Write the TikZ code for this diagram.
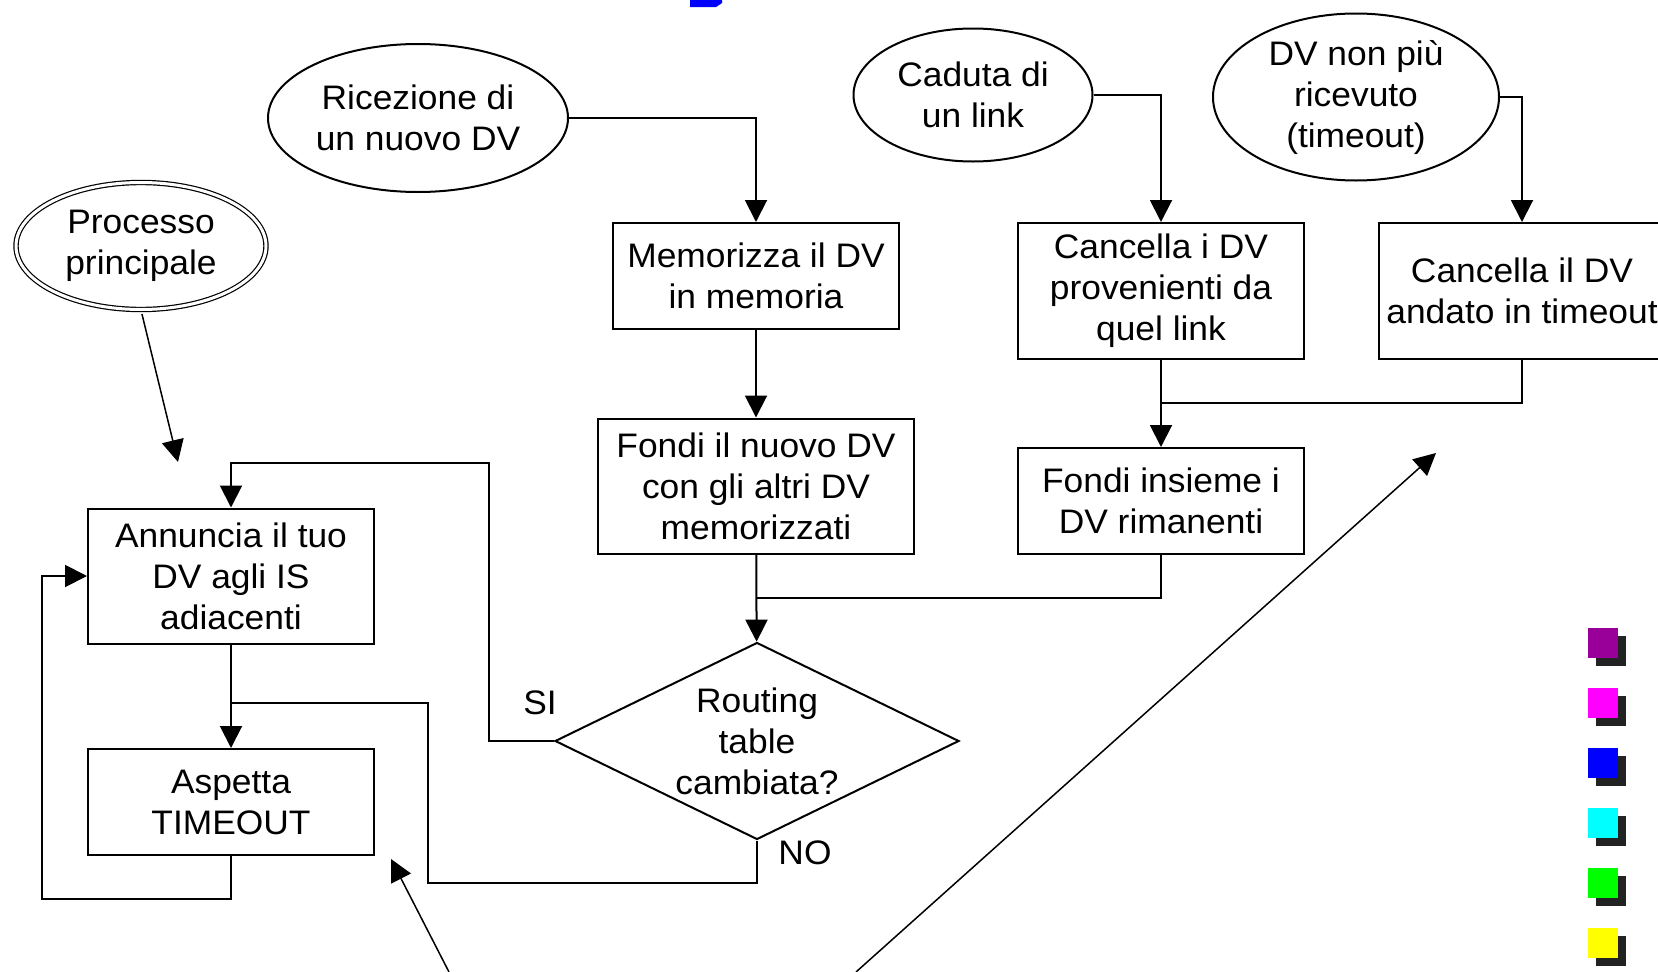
\documentclass[tikz,border=0pt]{standalone}
\usepackage{fontspec}
\setmainfont{Liberation Sans}[FakeStretch=1.04]
\usetikzlibrary{arrows.meta, positioning, shapes.geometric}
\definecolor{swpurple}{RGB}{153,0,153}
\definecolor{swmagenta}{RGB}{255,0,255}
\definecolor{swblue}{RGB}{0,0,255}
\definecolor{swcyan}{RGB}{0,255,255}
\definecolor{swgreen}{RGB}{0,255,0}
\definecolor{swyellow}{RGB}{255,255,0}
\definecolor{shadowgray}{RGB}{34,34,34}

\begin{document}
\begin{tikzpicture}[x=1pt, y=-1pt, line width=2pt,
  lab/.style={font=\fontsize{34}{41}\selectfont, align=center},
  box/.style={lab, draw, rectangle, inner sep=0pt, minimum width=286pt, minimum height=106pt},
  evt/.style={lab, draw, ellipse, inner sep=0pt},
  arr/.style={-{Triangle[length=22pt,width=22pt]}}]
  \fill[white] (0,0) rectangle (1658,972);
  \useasboundingbox (0,0) rectangle (1658,972);

  % events
  \node[evt, minimum width=300pt, minimum height=148pt] (ric) at (418,118) {Ricezione di\\un nuovo DV};
  \node[evt, minimum width=239pt, minimum height=133pt] (cad) at (973,95) {Caduta di\\un link};
  \node[evt, minimum width=286pt, minimum height=167pt] (dvn) at (1356,97) {DV non più\\ricevuto\\(timeout)};
  \node[evt, double, double distance=3pt, line width=1.2pt, minimum width=250pt, minimum height=127pt] (proc) at (141,246) {Processo\\principale};

  % steps
  \node[box] (mem) at (756,276) {Memorizza il DV\\in memoria};
  \node[box, minimum width=316pt, minimum height=135pt] (fon) at (756,486) {Fondi il nuovo DV\\con gli altri DV\\memorizzati};
  \node[box, minimum height=136pt] (canc) at (1161,291) {Cancella i DV\\provenienti da\\quel link};
  \node[box, minimum height=136pt] (canct) at (1522,291) {Cancella il DV\\andato in timeout};
  \node[box] (fins) at (1161,501) {Fondi insieme i\\DV rimanenti};
  \node[box, minimum height=135pt] (ann) at (231,576) {Annuncia il tuo\\DV agli IS\\adiacenti};
  \node[box] (asp) at (231,802) {Aspetta\\TIMEOUT};
  \node[lab, draw, diamond, aspect=2.05, inner sep=0pt, minimum width=404pt, minimum height=197pt] (dec) at (757,741) {Routing\\table\\cambiata?};
  \node[lab] (si) at (540,703) {SI};
  \node[lab] (no) at (805,853) {NO};

  \coordinate (mrgA) at (1161,403);
  \coordinate (mrgB) at (756,598);
  \coordinate (siTurn) at (489,463);
  \coordinate (noTurn) at (428,883);
  \coordinate (noJoin) at (231,703);
  \coordinate (loopTurn) at (42,899);
  \coordinate (pTip) at (178,462);
  \coordinate (lowA) at (449,972);
  \coordinate (tipA) at (391,859);
  \coordinate (lowB) at (856,972);
  \coordinate (tipB) at (1436,453);

  \draw[arr] (ric.east) -| (mem.north);
  \draw[arr] (cad.east) -| (canc.north);
  \draw[arr] (dvn.east) -| (canct.north);
  \draw[arr] (mem) -- (fon);
  \draw[arr] (canc) -- (fins);
  \draw (canct.south) |- (mrgA);
  \draw[arr] (fon) -- (dec);
  \draw (fins.south) |- (mrgB);
  \draw[arr] (dec.west) -| (siTurn) -| (ann.north);
  \draw[arr] (ann) -- (asp);
  \draw (dec.south) |- (noTurn) |- (noJoin);
  \draw[arr] (asp.south) |- (loopTurn) |- (ann.west);
  \draw[arr, line width=1.5pt, shorten <=4pt] (proc.south) -- (pTip);
  \draw[arr, line width=1.5pt] (lowA) -- (tipA);
  \draw[arr, line width=1.5pt] (lowB) -- (tipB);

  % top edge fragment
  \fill[swblue] (690,0) -- (722,0) -- (722,3) -- (716,7) -- (690,7) -- cycle;

  % colour bullets
  \foreach \c [count=\i from 0] in {swpurple, swmagenta, swblue, swcyan, swgreen, swyellow} {
    \fill[shadowgray] (1596,636+60*\i) rectangle ++(30,30);
    \fill[\c] (1588,628+60*\i) rectangle ++(30,30);
  }
\end{tikzpicture}
\end{document}
